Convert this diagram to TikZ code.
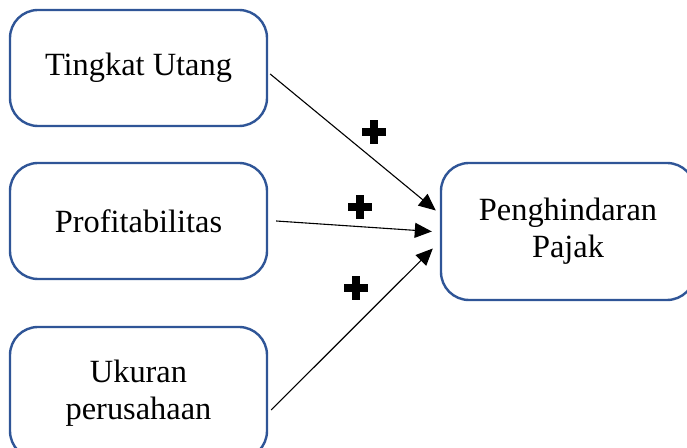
\documentclass[tikz,border=0pt]{standalone}
\usepackage{fontspec}
\setmainfont{Liberation Serif}
\usepackage{xcolor}
\usetikzlibrary{arrows.meta}
\definecolor{boxblue}{HTML}{2F5597}
\tikzset{
  varbox/.style={draw=boxblue, line width=1.2pt, rounded corners=14pt, fill=white,
    align=center, inner sep=0pt, font=\fontsize{16.2}{18.5}\selectfont},
  link/.style={-{Triangle[length=8.5pt,width=7.5pt]}, line width=0.55pt}
}
% plus sign drawn as a cross
\newcommand{\plusmark}[1]{%
  \fill[black] ($(#1)+(-12,-4)$) rectangle ($(#1)+(12,4)$);
  \fill[black] ($(#1)+(-4,-12)$) rectangle ($(#1)+(4,12)$);}
\usetikzlibrary{calc}
\begin{document}
\begin{tikzpicture}[x=0.5pt, y=-0.5pt]
    \clip (0,0) rectangle (687,448);
    \useasboundingbox (0,0) rectangle (687,448);
    % variables
    \node[varbox, minimum width=128.5pt, minimum height=58pt] (utang) at (138.5,68) {Tingkat Utang};
    \node[varbox, minimum width=128.5pt, minimum height=58pt] (profit) at (138.5,221) {Profitabilitas};
    \node[varbox, minimum width=128.5pt, minimum height=66pt] (ukuran) at (138.5,393) {Ukuran\\perusahaan};
    \node[varbox, minimum width=127pt, minimum height=68.5pt] (pajak) at (568,231.5) {Penghindaran\\Pajak};

    % arrows
    \draw[link] ([xshift=1pt,yshift=-3pt]utang.east) -- ([xshift=-2pt,yshift=10.5pt]pajak.west);
    \draw[link] ([xshift=4pt]profit.east) -- ([xshift=-4pt]pajak.west);
    \draw[link] ([xshift=1.5pt,yshift=-8.5pt]ukuran.east) -- ([xshift=-3.5pt,yshift=-8.5pt]pajak.west);

    % signs
    \coordinate (s1) at (374,132);
    \coordinate (s2) at (360,207);
    \coordinate (s3) at (356,288);
    \plusmark{s1}
    \plusmark{s2}
    \plusmark{s3}
\end{tikzpicture}
\end{document}
